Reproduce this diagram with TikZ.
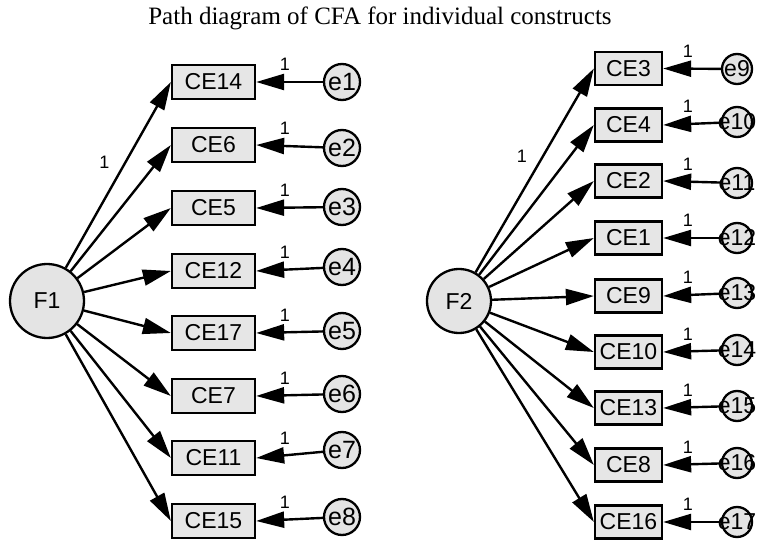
\documentclass[tikz,border=0pt]{standalone}
\usepackage{fontspec}
\setmainfont{Liberation Serif}
\setsansfont{Liberation Sans}
\usetikzlibrary{arrows.meta}
\definecolor{boxfill}{HTML}{E6E6E6}
\definecolor{circfill}{HTML}{E4E4E4}
\begin{document}
\begin{tikzpicture}[x=1pt,y=-1pt,
  obs/.style={draw, line width=2.3pt, fill=boxfill, inner sep=0pt, font=\sffamily\fontsize{23}{23}\selectfont},
  obsL/.style={obs, minimum width=83pt, minimum height=34pt},
  obsR/.style={obs, minimum width=67pt, minimum height=33pt},
  lat/.style={circle, draw, line width=2.3pt, fill=circfill, inner sep=0pt, font=\sffamily\fontsize{23}{23}\selectfont},
  errL/.style={circle, draw, line width=2.3pt, fill=circfill, inner sep=0pt, minimum size=36pt, font=\sffamily\fontsize{25}{25}\selectfont},
  errR/.style={circle, draw, line width=2.3pt, fill=circfill, inner sep=0pt, minimum size=30pt, font=\sffamily\fontsize{23}{23}\selectfont},
  arr/.style={line width=2.4pt, -{Triangle[length=28pt,width=16pt]}},
  one/.style={font=\sffamily\fontsize{18}{18}\selectfont, inner sep=0pt},
]
\useasboundingbox (0,0) rectangle (760,540);

\node[font=\rmfamily\fontsize{25}{25}\selectfont, anchor=base] (title) at (380,25) {Path diagram of CFA for individual constructs};

% ---------- Left panel ----------
\node[lat, minimum size=74pt] (F1) at (47,301) {F1};
\foreach \n/\y/\e/\ey in {CE14/82/e1/82, CE6/145/e2/148, CE5/208/e3/207, CE12/271/e4/267,
                         CE17/333/e5/331, CE7/396/e6/394, CE11/458/e7/450, CE15/521/e8/517}{
  \node[obsL] (\n) at (213.5,\y) {\n};
  \node[errL] (\e) at (342,\ey) {\makebox[0pt]{\e}};
  \draw[arr] (\e) -- node[one, pos=0.57, above=10pt] {1} (\n.east);
}
\draw[arr] (F1) -- node[one, pos=0.57, left=15pt] {1} (CE14.west);
\foreach \n in {CE6,CE5,CE12,CE17,CE7,CE11,CE15}{
  \draw[arr] (F1) -- (\n.west);
}

% ---------- Right panel ----------
\node[lat, minimum size=64pt] (F2) at (459,301) {F2};
\foreach \n/\y/\e/\ey in {CE3/68.5/e9/69, CE4/125/e10/122, CE2/181/e11/183, CE1/238/e12/238,
                         CE9/296/e13/293, CE10/352/e14/350, CE13/408/e15/406, CE8/465/e16/463, CE16/522/e17/522}{
  \node[obsR] (\n) at (628.5,\y) {\n};
  \node[errR] (\e) at (737,\ey) {\makebox[0pt]{\e}};
  \draw[arr] (\e) -- node[one, pos=0.57, above=10pt] {1} (\n.east);
}
\draw[arr] (F2) -- node[one, pos=0.57, left=15pt] {1} (CE3.west);
\foreach \n in {CE4,CE2,CE1,CE9,CE10,CE13,CE8,CE16}{
  \draw[arr] (F2) -- (\n.west);
}
\end{tikzpicture}
\end{document}
